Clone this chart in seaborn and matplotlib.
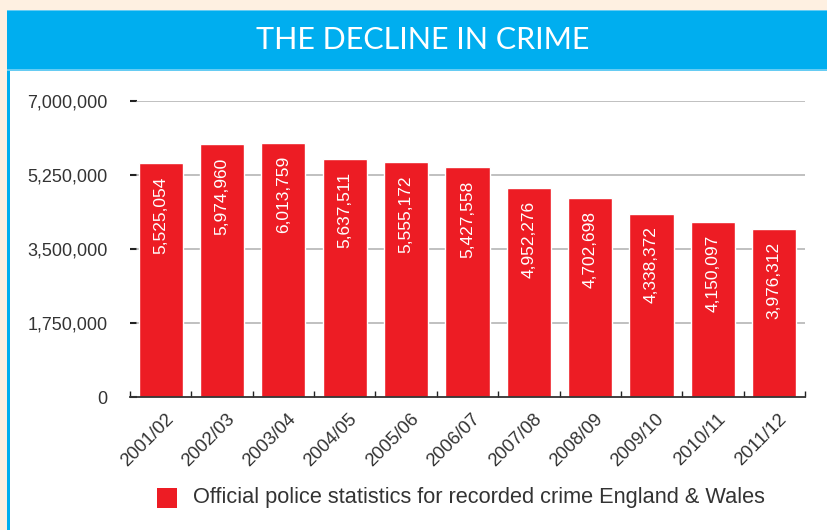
import matplotlib
matplotlib.use("Agg")
import matplotlib.pyplot as plt
import matplotlib.transforms as mtransforms
from matplotlib.patches import Rectangle
import seaborn as sns
import pandas as pd

# Recorded crime, England & Wales
years = ["2001/02", "2002/03", "2003/04", "2004/05", "2005/06", "2006/07",
         "2007/08", "2008/09", "2009/10", "2010/11", "2011/12"]
crimes = [5525054, 5974960, 6013759, 5637511, 5555172, 5427558,
          4952276, 4702698, 4338372, 4150097, 3976312]
y_ticks = [0, 1750000, 3500000, 5250000, 7000000]
title = "THE DECLINE IN CRIME"
series_name = "Official police statistics for recorded crime England & Wales"

RED = "#ED1C24"
BLUE = "#00AEEF"
CREAM = "#FEF0E1"
TEXT = "#333333"

sns.set_style("white")
plt.rcParams["font.family"] = ["Liberation Sans", "DejaVu Sans"]

W, H = 828, 530
fig = plt.figure(figsize=(W / 100, H / 100), dpi=100, facecolor=CREAM)

def px_rect(x0, y0, x1, y1, **kw):
    # rectangle in pixel coordinates measured from the top-left corner
    fig.patches.append(Rectangle((x0 / W, 1 - y1 / H), (x1 - x0) / W, (y1 - y0) / H,
                                 transform=fig.transFigure, **kw))

# white panel with a blue left border, and the blue title banner
px_rect(7, 70, W, H, facecolor=BLUE, edgecolor="none", zorder=-3)
px_rect(10, 70, W, H, facecolor="white", edgecolor="none", zorder=-2)
px_rect(7, 10, W, 71, facecolor=BLUE, edgecolor="none", zorder=-2)
px_rect(7, 10, W, 11, facecolor="#66CCF3", edgecolor="none", zorder=-1)
px_rect(7, 69.5, W, 71, facecolor="#66CCF3", edgecolor="none", zorder=-1)
fig.text(423 / W, 1 - 40 / H, title, color="white", fontsize=22,
         family=["Lato", "DejaVu Sans"], ha="center", va="center")

ax = fig.add_axes([130 / W, 1 - 397 / H, 675 / W, 296 / H])
ax.set_zorder(5)
ax.set_facecolor("none")

df = pd.DataFrame({"year": years, "crimes": crimes})
sns.barplot(data=df, x="year", y="crimes", color=RED, saturation=1,
            width=0.72, ax=ax, zorder=3)

ax.set_xlim(-0.5, len(years) - 0.5)
ax.set_ylim(0, 7000000)
ax.set_xlabel("")
ax.set_ylabel("")

# gridlines, starting just right of the y tick marks
for yv in y_ticks[1:]:
    ax.axhline(yv, xmin=7 / 675, xmax=1, color="#BBBBBB", lw=1.3, zorder=1)

ax.set_yticks(y_ticks)
ax.set_yticklabels([f"{v:,}" for v in y_ticks], color=TEXT, fontsize=13)
ax.tick_params(axis="y", direction="in", length=5, width=1.5, color="#222222",
               pad=16, left=True)

ax.set_xticks(range(len(years)))
ax.set_xticklabels(years, rotation=45, ha="right", va="center",
                   rotation_mode="anchor", color=TEXT, fontsize=13.3)
ax.tick_params(axis="x", which="major", length=0, pad=14)
ax.set_xticks([i - 0.5 for i in range(len(years) + 1)], minor=True)
ax.tick_params(axis="x", which="minor", direction="in", length=4, width=1,
               color="#222222", bottom=True)
shift = mtransforms.ScaledTranslation(10 / 100, 0, fig.dpi_scale_trans)
for lab in ax.get_xticklabels():
    lab.set_transform(lab.get_transform() + shift)

for side in ["left", "right", "top"]:
    ax.spines[side].set_visible(False)
ax.spines["bottom"].set_color("#333333")
ax.spines["bottom"].set_linewidth(1.3)
ax.spines["bottom"].set_zorder(4)

# value labels inside the top of each bar
down = mtransforms.ScaledTranslation(0, -13 / 100, fig.dpi_scale_trans)
for i, v in enumerate(crimes):
    ax.text(i, v, f"{v:,}", rotation=90, ha="center", va="top",
            color="white", fontsize=12.5, zorder=5,
            transform=ax.transData + down)

# legend
px_rect(157, 488, 177, 508, facecolor=RED, edgecolor="none", zorder=2)
fig.text(193 / W, 1 - 498 / H, series_name, color=TEXT, fontsize=15.7,
         ha="left", va="center")

fig.savefig("out.png", dpi=100, facecolor=CREAM)
